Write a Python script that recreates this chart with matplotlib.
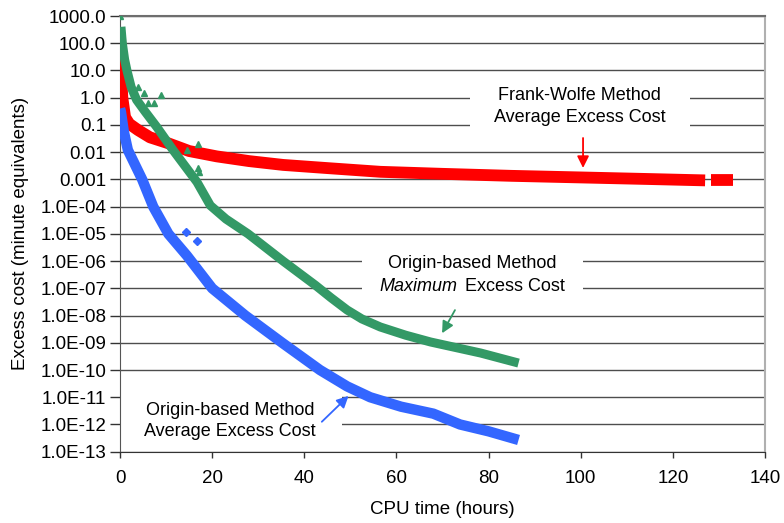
import numpy as np
import matplotlib
matplotlib.use('Agg')
import matplotlib.pyplot as plt
from matplotlib.patches import Rectangle

plt.rcParams['font.family'] = ['Liberation Sans', 'DejaVu Sans']
plt.rcParams['font.size'] = 13

# Frank-Wolfe, average excess cost (red squares)
fw_x = [0, 0.2, 0.5, 1.1, 2.0, 3.9, 6.5, 10.2, 15, 21, 28, 35.4, 45, 56.5, 70, 85, 100, 115, 127]
fw_y = [200, 10, 1.0, 0.19, 0.11, 0.065, 0.035, 0.022, 0.011, 0.007, 0.0047, 0.0034,
        0.0026, 0.0019, 0.0016, 0.00135, 0.00118, 0.00103, 0.00092]
fw_tail_x = [128.3, 133]
fw_tail_y = [0.00092, 0.00092]

# origin-based, maximum excess cost (green triangles)
obm_x = [0.2, 0.5, 1.0, 1.5, 2.4, 3.6, 5.5, 8.0, 11.5, 16.7, 19.6, 23, 27.8, 35.4,
         42.4, 45.8, 49.3, 52.5, 56.5, 62, 67.4, 78.3, 86.5]
obm_y = [400, 100, 25, 10, 2.5, 0.83, 0.3, 0.083, 0.012, 8e-4, 1.1e-4, 3.5e-5, 1e-5, 1e-6,
         1.3e-7, 4.5e-8, 1.6e-8, 7.5e-9, 3.8e-9, 1.9e-9, 1.07e-9, 4.2e-10, 1.8e-10]
obm_out_x = [0, 0.1, 0.3, 3.9, 5.1, 6.1, 7.4, 8.9, 14.5, 16.9, 16.9, 17.1]
obm_out_y = [1000, 300, 150, 2.5, 1.5, 0.63, 0.63, 1.25, 0.012, 0.02, 2.6e-3, 1.8e-3]

# origin-based, average excess cost (blue diamonds)
oba_x = [0.0, 0.2, 0.8, 1.7, 4.8, 7.2, 10.5, 14.5, 20, 27.2, 35.2, 43.4, 49.3, 54.3,
         61, 68, 73.8, 80, 86.5]
oba_y = [0.4, 0.3, 0.06, 0.012, 1e-3, 1e-4, 1e-5, 1.6e-6, 1e-7, 1e-8, 1e-9, 1e-10,
         2.5e-11, 1e-11, 4.5e-12, 2.5e-12, 1e-12, 5.6e-13, 2.7e-13]
oba_out_x = [14.3, 16.7]
oba_out_y = [1.2e-5, 5.5e-6]

yticks = [10.0 ** e for e in range(3, -14, -1)]
ytick_labels = ['1000.0', '100.0', '10.0', '1.0', '0.1', '0.01', '0.001',
                '1.0E-04', '1.0E-05', '1.0E-06', '1.0E-07', '1.0E-08', '1.0E-09',
                '1.0E-10', '1.0E-11', '1.0E-12', '1.0E-13']
xticks = [0, 20, 40, 60, 80, 100, 120, 140]

red = '#ff0000'
green = '#339966'
blue = '#3366ff'

fig = plt.figure(figsize=(7.84, 5.23), dpi=100)
ax = fig.add_axes([0.1531, 0.1363, 0.8227, 0.8331])
ax.set_yscale('log')
ax.set_xlim(0, 140)
ax.set_ylim(1e-13, 1000)

ax.set_yticks(yticks)
ax.set_yticklabels(ytick_labels)
ax.yaxis.set_minor_locator(matplotlib.ticker.NullLocator())
ax.set_xticks(xticks)
ax.tick_params(axis='both', direction='out', width=1, color='#333333', labelsize=13.5)
ax.tick_params(axis='y', length=7, pad=3)
ax.tick_params(axis='x', length=4.5, pad=9)

ax.yaxis.grid(True, color='#4d4d4d', lw=1.0)
ax.set_axisbelow(True)
ax.spines['left'].set_color('#555555')
ax.spines['bottom'].set_color('#333333')
ax.spines['right'].set_color('#b0b0b0')
ax.spines['right'].set_linewidth(1.5)
ax.spines['top'].set_color('#6e6e6e')
ax.spines['top'].set_linewidth(1.5)

# data
ax.plot(fw_x, fw_y, color=red, lw=8.5, solid_capstyle='butt', solid_joinstyle='round', zorder=3)
ax.plot(fw_tail_x, fw_tail_y, color=red, lw=8.5, solid_capstyle='butt', zorder=3)
ax.plot(obm_x, obm_y, color=green, lw=6.5, solid_capstyle='butt', solid_joinstyle='round', zorder=4)
ax.plot(obm_out_x, obm_out_y, '^', color=green, ms=5, ls='none', zorder=4)
ax.plot(oba_x, oba_y, color=blue, lw=7.5, solid_capstyle='butt', solid_joinstyle='round', zorder=5)
ax.plot(oba_out_x, oba_out_y, 'D', color=blue, ms=4, ls='none', zorder=5)

# white boxes behind labels
ax.add_patch(Rectangle((76, 10 ** -1.3), 47.7, 10 ** 0.72 - 10 ** -1.3,
                       facecolor='white', edgecolor='none', zorder=2))
ax.add_patch(Rectangle((52.5, 10 ** -7.61), 48, 10 ** -5.41 - 10 ** -7.61,
                       facecolor='white', edgecolor='none', zorder=2))
ax.add_patch(Rectangle((0.2, 10 ** -12.83), 48, 10 ** -10.55 - 10 ** -12.83,
                       facecolor='white', edgecolor='none', zorder=2))

arrow = '-|>,head_length=0.5,head_width=0.25'

ax.text(99.8, 10 ** -0.33, 'Frank-Wolfe Method\nAverage Excess Cost', ha='center',
        va='center', fontsize=13, linespacing=1.35, zorder=6)
ax.annotate('', xy=(100.5, 10 ** -2.58), xytext=(100.5, 10 ** -1.48),
            arrowprops=dict(arrowstyle=arrow, color=red, lw=1.3, mutation_scale=14,
                            shrinkA=0, shrinkB=0), zorder=6)

ax.text(76.4, 10 ** -6.1, 'Origin-based Method', ha='center', va='center', fontsize=13, zorder=6)
ax.text(73.2, 10 ** -6.95, 'Maximum', ha='right', va='center', fontsize=13, style='italic', zorder=6)
ax.text(74.8, 10 ** -6.95, 'Excess Cost', ha='left', va='center', fontsize=13, zorder=6)
ax.annotate('', xy=(69.9, 10 ** -8.65), xytext=(72.7, 10 ** -7.8),
            arrowprops=dict(arrowstyle=arrow, color=green, lw=1.3, mutation_scale=14,
                            shrinkA=0, shrinkB=0), zorder=6)

ax.text(23.9, 10 ** -11.88, 'Origin-based Method\nAverage Excess Cost', ha='center',
        va='center', fontsize=13, linespacing=1.35, zorder=6)
ax.annotate('', xy=(49.6, 10 ** -10.95), xytext=(43.8, 10 ** -11.9),
            arrowprops=dict(arrowstyle=arrow, color=blue, lw=1.3, mutation_scale=14,
                            shrinkA=0, shrinkB=0), zorder=6)

ax.set_xlabel('CPU time (hours)', fontsize=13.5, labelpad=10)
ax.set_ylabel('Excess cost (minute equivalents)', fontsize=13.5, labelpad=8)

fig.savefig('out.png', dpi=100)
